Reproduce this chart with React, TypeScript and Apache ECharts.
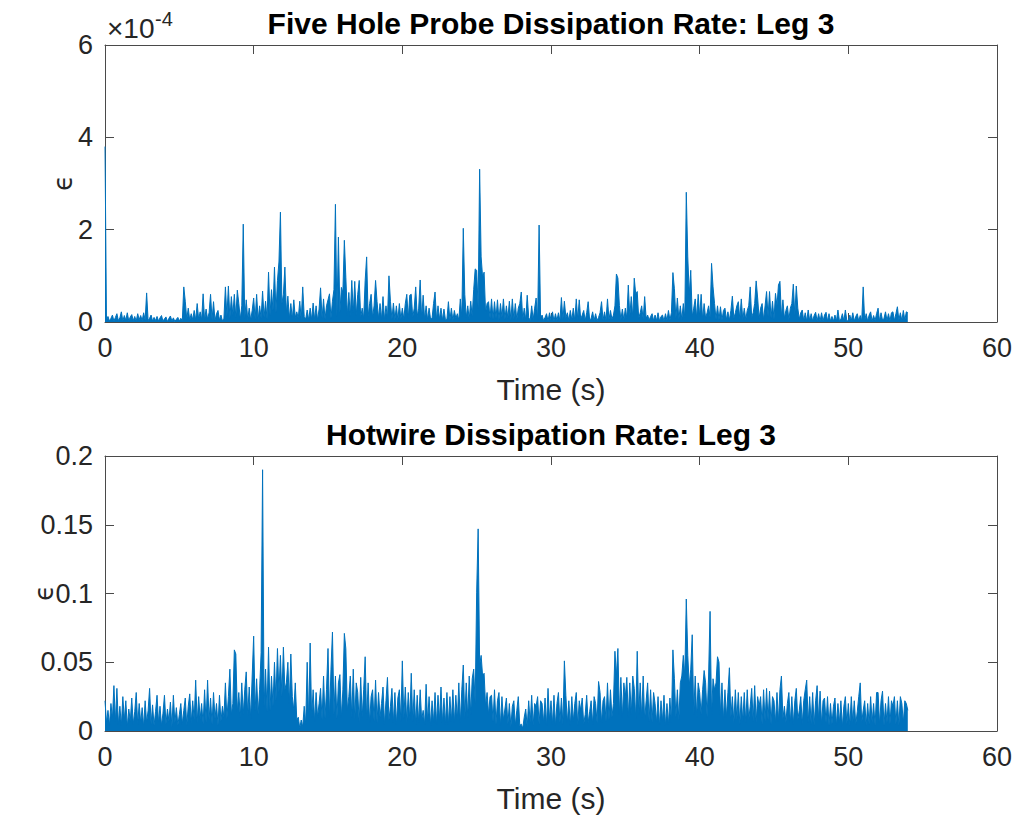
import React, { useEffect, useRef } from "react";
import * as echarts from "echarts";

// Sample spacing of both records (seconds)
const SAMPLE_STEP_S = 0.1;

// Five hole probe dissipation rate, in units of 1e-6 (one row per second, 10 samples per row)
const fiveHoleEpsE6 = [
  380, 3, 12, 2, 8, 15, 2, 10, 18, 3,
  9, 22, 2, 14, 4, 20, 2, 11, 16, 3,
  12, 2, 18, 5, 14, 3, 20, 4, 63, 3,
  8, 15, 2, 10, 3, 12, 2, 9, 14, 2,
  7, 11, 1, 8, 13, 2, 9, 1, 6, 10,
  2, 8, 2, 76, 45, 6, 30, 4, 18, 5,
  25, 4, 40, 6, 22, 5, 61, 4, 28, 6,
  20, 60, 5, 44, 3, 18, 25, 4, 15, 2,
  8, 76, 12, 78, 8, 55, 15, 60, 10, 69,
  40, 6, 35, 212, 8, 48, 5, 30, 4, 25,
  52, 6, 60, 5, 35, 8, 67, 10, 45, 6,
  108, 15, 70, 25, 119, 20, 90, 130, 238, 40,
  60, 119, 20, 56, 8, 40, 6, 48, 10, 22,
  8, 45, 5, 76, 12, 6, 26, 4, 30, 5,
  41, 5, 35, 4, 28, 74, 8, 50, 6, 35,
  48, 61, 8, 45, 70, 255, 12, 184, 20, 75,
  64, 177, 97, 15, 64, 12, 90, 20, 88, 15,
  60, 90, 10, 30, 8, 90, 141, 12, 40, 60,
  10, 35, 90, 44, 8, 40, 6, 55, 5, 35,
  8, 100, 45, 6, 41, 5, 35, 4, 40, 6,
  30, 6, 40, 60, 8, 58, 60, 10, 30, 76,
  12, 30, 91, 8, 58, 6, 35, 5, 30, 6,
  8, 40, 65, 5, 35, 6, 30, 4, 28, 5,
  6, 44, 4, 30, 3, 25, 8, 18, 4, 50,
  12, 203, 60, 10, 35, 6, 45, 12, 70, 115,
  112, 30, 331, 141, 97, 108, 20, 40, 44, 8,
  50, 6, 44, 8, 48, 5, 40, 10, 50, 6,
  35, 8, 45, 4, 50, 6, 40, 5, 30, 40,
  65, 5, 30, 4, 58, 10, 3, 35, 5, 30,
  52, 4, 210, 8, 15, 3, 10, 18, 2, 20,
  4, 22, 2, 18, 3, 20, 2, 53, 6, 45,
  10, 20, 3, 25, 4, 30, 3, 50, 5, 48,
  6, 15, 25, 3, 20, 44, 4, 8, 22, 3,
  18, 3, 10, 20, 44, 4, 22, 3, 50, 5,
  25, 6, 15, 35, 104, 95, 36, 5, 28, 4,
  30, 8, 80, 12, 55, 10, 95, 60, 66, 8,
  20, 35, 6, 55, 8, 15, 4, 12, 18, 3,
  15, 3, 20, 2, 12, 15, 2, 18, 3, 25,
  4, 20, 107, 72, 8, 52, 6, 35, 5, 40,
  10, 281, 141, 60, 112, 12, 30, 50, 8, 60,
  12, 60, 6, 40, 8, 20, 35, 10, 127, 76,
  40, 6, 35, 5, 33, 4, 25, 30, 5, 22,
  4, 25, 56, 8, 20, 35, 44, 6, 50, 5,
  30, 5, 25, 35, 76, 10, 20, 40, 89, 52,
  8, 30, 40, 5, 35, 66, 12, 66, 8, 45,
  6, 62, 35, 80, 88, 12, 48, 8, 25, 35,
  5, 30, 40, 82, 15, 78, 30, 6, 20, 26,
  3, 20, 2, 26, 3, 18, 2, 14, 21, 2,
  18, 2, 20, 2, 15, 21, 2, 18, 2, 12,
  2, 15, 2, 26, 3, 6, 18, 2, 26, 3,
  2, 15, 3, 20, 2, 12, 18, 2, 14, 2,
  76, 3, 18, 2, 15, 22, 2, 14, 3, 18,
  30, 2, 20, 4, 8, 22, 3, 18, 2, 20,
  22, 3, 18, 33, 4, 20, 3, 25, 4, 22,
  20,
];

// Hotwire dissipation rate, in units of 1e-3 (one row per second, 10 samples per row)
const hotwireEpsE3 = [
  22, 6, 15, 4, 20, 9, 33, 7, 31, 5,
  18, 4, 25, 8, 22, 3, 16, 7, 24, 5,
  14, 28, 5, 20, 6, 17, 3, 22, 6, 15,
  31, 5, 19, 4, 14, 26, 6, 18, 4, 13,
  26, 5, 16, 7, 21, 3, 26, 6, 17, 4,
  12, 20, 5, 15, 24, 4, 18, 27, 6, 22,
  8, 37, 6, 25, 9, 20, 5, 30, 6, 37,
  8, 24, 5, 28, 9, 20, 4, 26, 7, 18,
  10, 35, 9, 25, 45, 12, 20, 59, 56, 14,
  28, 10, 35, 12, 30, 43, 11, 32, 9, 40,
  69, 15, 38, 12, 30, 57, 190, 18, 45, 14,
  61, 15, 40, 18, 50, 22, 60, 28, 55, 25,
  61, 30, 35, 50, 20, 56, 25, 15, 35, 8,
  10, 2, 8, 3, 18, 5, 50, 8, 64, 10,
  30, 7, 28, 10, 20, 31, 8, 40, 9, 30,
  60, 10, 45, 72, 12, 40, 9, 35, 41, 10,
  30, 71, 60, 15, 25, 40, 10, 45, 8, 35,
  28, 6, 39, 10, 30, 54, 8, 35, 6, 25,
  30, 7, 37, 6, 28, 10, 20, 32, 5, 22,
  39, 8, 18, 31, 6, 28, 5, 24, 30, 7,
  51, 9, 32, 6, 28, 8, 42, 7, 30, 5,
  26, 6, 30, 8, 15, 5, 34, 7, 25, 4,
  22, 6, 28, 5, 26, 8, 32, 6, 24, 5,
  28, 5, 25, 7, 30, 6, 26, 8, 35, 6,
  30, 48, 9, 35, 10, 40, 12, 38, 45, 20,
  101, 147, 48, 55, 40, 42, 18, 28, 12, 25,
  26, 7, 30, 5, 22, 28, 4, 25, 8, 16,
  24, 5, 20, 3, 18, 22, 4, 15, 25, 4,
  5, 2, 10, 16, 3, 22, 6, 26, 4, 20,
  18, 25, 5, 22, 20, 6, 24, 4, 31, 8,
  22, 5, 26, 4, 20, 28, 6, 24, 5, 51,
  26, 6, 22, 4, 25, 7, 20, 28, 4, 22,
  15, 24, 5, 12, 26, 6, 14, 22, 5, 25,
  20, 6, 36, 28, 6, 22, 25, 7, 35, 8,
  30, 10, 20, 58, 40, 60, 12, 39, 10, 35,
  25, 39, 10, 35, 12, 40, 31, 9, 58, 12,
  35, 10, 40, 8, 22, 35, 7, 30, 6, 28,
  20, 6, 25, 4, 22, 7, 26, 4, 20, 5,
  24, 6, 59, 38, 10, 30, 8, 35, 40, 55,
  40, 96, 55, 33, 45, 70, 12, 40, 10, 35,
  28, 12, 30, 44, 35, 10, 40, 87, 12, 38,
  30, 35, 54, 50, 12, 35, 8, 30, 10, 28,
  46, 10, 25, 6, 30, 8, 28, 5, 25, 7,
  28, 6, 30, 8, 18, 31, 7, 33, 6, 25,
  18, 25, 5, 30, 7, 31, 8, 29, 5, 25,
  22, 6, 28, 7, 30, 40, 9, 18, 6, 20,
  28, 6, 25, 5, 22, 31, 8, 15, 25, 5,
  22, 30, 37, 6, 25, 5, 28, 4, 22, 33,
  8, 29, 5, 22, 24, 6, 25, 4, 20, 5,
  18, 24, 4, 20, 6, 22, 3, 18, 25, 5,
  20, 4, 25, 6, 22, 5, 14, 25, 35, 6,
  15, 22, 4, 20, 5, 25, 6, 20, 4, 28,
  28, 5, 22, 29, 4, 20, 6, 25, 5, 22,
  18, 25, 5, 22, 4, 25, 20, 6, 22, 20,
  15,
];

const X_MIN = 0;
const X_MAX = 60;
const X_INTERVAL = 10;
const TOP_Y_MAX = 6e-4;
const TOP_Y_INTERVAL = 2e-4;
const BOTTOM_Y_MAX = 0.2;
const BOTTOM_Y_INTERVAL = 0.05;

const TITLE_TOP = "Five Hole Probe Dissipation Rate: Leg 3";
const TITLE_BOTTOM = "Hotwire Dissipation Rate: Leg 3";
const X_LABEL = "Time (s)";
const Y_LABEL = "\u03F5";

const FONT = '"Liberation Sans", Arial, Helvetica, sans-serif';
const AXIS_COLOR = "#4a4a4a";
const TEXT_COLOR = "#262626";
const LINE_COLOR = "#0072BD";

function xAxis(gridIndex: number, position: "bottom" | "top", labeled: boolean) {
  return {
    type: "value",
    gridIndex,
    position,
    min: X_MIN,
    max: X_MAX,
    interval: X_INTERVAL,
    axisLine: { show: true, onZero: false, lineStyle: { color: AXIS_COLOR, width: 1 } },
    axisTick: { show: true, inside: true, length: 9, lineStyle: { color: AXIS_COLOR, width: 1 } },
    axisLabel: {
      show: labeled,
      color: TEXT_COLOR,
      fontSize: 27,
      fontFamily: FONT,
      margin: 12,
      showMinLabel: true,
      showMaxLabel: true,
    },
    splitLine: { show: false },
    name: labeled ? X_LABEL : "",
    nameLocation: "middle",
    nameGap: 52,
    nameTextStyle: { color: TEXT_COLOR, fontSize: 30, fontFamily: FONT },
  };
}

function yAxis(
  gridIndex: number,
  position: "left" | "right",
  labeled: boolean,
  max: number,
  interval: number,
  formatter: (v: number) => string
) {
  return {
    type: "value",
    gridIndex,
    position,
    min: 0,
    max,
    interval,
    axisLine: { show: true, onZero: false, lineStyle: { color: AXIS_COLOR, width: 1 } },
    axisTick: { show: true, inside: true, length: 9, lineStyle: { color: AXIS_COLOR, width: 1 } },
    axisLabel: {
      show: labeled,
      color: TEXT_COLOR,
      fontSize: 27,
      fontFamily: FONT,
      margin: 12,
      formatter,
      showMinLabel: true,
      showMaxLabel: true,
    },
    splitLine: { show: false },
  };
}

function lineSeries(xIdx: number, yIdx: number, data: number[][]) {
  return {
    type: "line",
    xAxisIndex: xIdx,
    yAxisIndex: yIdx,
    data,
    showSymbol: false,
    symbol: "none",
    silent: true,
    clip: true,
    lineStyle: { color: LINE_COLOR, width: 1 },
    areaStyle: { color: LINE_COLOR, opacity: 1, origin: "start" },
  };
}

function yLabelText(x: number, y: number) {
  return {
    type: "text",
    x,
    y,
    rotation: Math.PI / 2,
    style: {
      text: Y_LABEL,
      fontSize: 26,
      fontFamily: '"DejaVu Sans", ' + FONT,
      fill: TEXT_COLOR,
      textAlign: "center",
      textVerticalAlign: "middle",
    },
  };
}

export default function App() {
  const ref = useRef<HTMLDivElement>(null);

  useEffect(() => {
    if (!ref.current) return;
    const chart = echarts.init(ref.current, undefined, { renderer: "svg" });

    const topData = fiveHoleEpsE6.map((v, i) => [Number((i * SAMPLE_STEP_S).toFixed(1)), v * 1e-6]);
    const bottomData = hotwireEpsE3.map((v, i) => [Number((i * SAMPLE_STEP_S).toFixed(1)), v * 1e-3]);

    const topFmt = (v: number) => String(Math.round(v * 1e4));
    const bottomFmt = (v: number) => String(Number(v.toFixed(2)));

    chart.setOption({
      animation: false,
      backgroundColor: "#ffffff",
      grid: [
        { left: 105, top: 45, width: 892, height: 277, outerBoundsMode: "none", containLabel: false },
        { left: 105, top: 456, width: 892, height: 275, outerBoundsMode: "none", containLabel: false },
      ],
      xAxis: [
        xAxis(0, "bottom", true),
        xAxis(0, "top", false),
        xAxis(1, "bottom", true),
        xAxis(1, "top", false),
      ],
      yAxis: [
        yAxis(0, "left", true, TOP_Y_MAX, TOP_Y_INTERVAL, topFmt),
        yAxis(0, "right", false, TOP_Y_MAX, TOP_Y_INTERVAL, topFmt),
        yAxis(1, "left", true, BOTTOM_Y_MAX, BOTTOM_Y_INTERVAL, bottomFmt),
        yAxis(1, "right", false, BOTTOM_Y_MAX, BOTTOM_Y_INTERVAL, bottomFmt),
      ],
      series: [lineSeries(0, 0, topData), lineSeries(2, 2, bottomData)],
      graphic: [
        {
          type: "text",
          x: 551,
          y: 23,
          style: {
            text: TITLE_TOP,
            fontSize: 30,
            fontWeight: "bold",
            fontFamily: FONT,
            fill: "#000000",
            textAlign: "center",
            textVerticalAlign: "middle",
          },
        },
        {
          type: "text",
          x: 551,
          y: 434,
          style: {
            text: TITLE_BOTTOM,
            fontSize: 30,
            fontWeight: "bold",
            fontFamily: FONT,
            fill: "#000000",
            textAlign: "center",
            textVerticalAlign: "middle",
          },
        },
        yLabelText(63, 183),
        yLabelText(44, 593),
        {
          type: "text",
          x: 107,
          y: 28,
          style: {
            text: "\u00D710",
            fontSize: 28,
            fontFamily: FONT,
            fill: TEXT_COLOR,
            textAlign: "left",
            textVerticalAlign: "middle",
          },
        },
        {
          type: "text",
          x: 155,
          y: 19,
          style: {
            text: "-4",
            fontSize: 20,
            fontFamily: FONT,
            fill: TEXT_COLOR,
            textAlign: "left",
            textVerticalAlign: "middle",
          },
        },
      ],
    });

    return () => {
      chart.dispose();
    };
  }, []);

  return (
    <div
      ref={ref}
      style={{ position: "absolute", left: 0, top: 0, width: 1020, height: 824, background: "#ffffff" }}
    />
  );
}
